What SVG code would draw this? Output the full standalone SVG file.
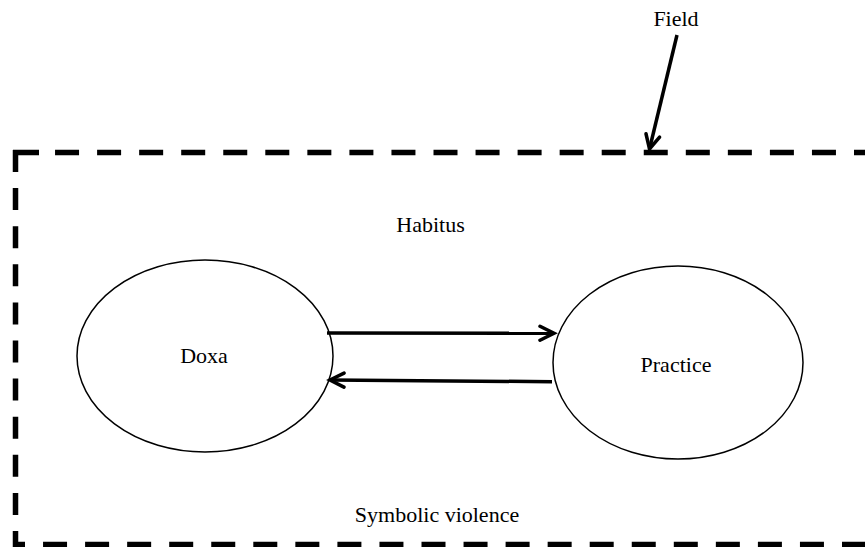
<svg xmlns="http://www.w3.org/2000/svg" width="865" height="547" viewBox="0 0 865 547">
<defs>
<style>
.lbl{font-family:"Liberation Serif","Times New Roman",serif;font-size:22px;fill:#000;text-anchor:middle}
.node{fill:#fff;stroke:#000;stroke-width:1.5}
.frame{fill:none;stroke:#000;stroke-width:5.5}
.conn{fill:none;stroke:#000;stroke-width:3.5}
</style>
<marker id="arr" markerUnits="userSpaceOnUse" markerWidth="20" markerHeight="20" viewBox="-16 -10 20 20" refX="0" refY="0" orient="auto">
<path d="M-14,-7 L0,0 L-14,7" fill="none" stroke="#000" stroke-width="3.5" stroke-linejoin="miter" stroke-linecap="round"/>
</marker>
</defs>
<rect width="865" height="547" fill="#fff"/>
<g id="field">
<path class="frame" d="M13,152.5 H870" stroke-dasharray="26 16.05 24 18.05 24 18.05 24 18.05 24 18.05 24 18.05 24 18.05 24 18.05 24 18.05 24 18.05 24 18.05 24 18.05 24 18.05 24 18.05 24 18.05 24 18.05 24 18.05 24 18.05 24 18.05 24 18.05 24 18.05 24 18.05"/>
<path class="frame" d="M15.5,150 V547" stroke-dasharray="22 16.1"/>
<path class="frame" d="M13,544.5 H870" stroke-dasharray="24 18.05" stroke-dashoffset="12"/>
<text class="lbl" x="676" y="26">Field</text>
</g>
<g id="habitus">
<text class="lbl" x="430.5" y="232">Habitus</text>
</g>
<g id="symbolic-violence">
<text class="lbl" x="437" y="522">Symbolic violence</text>
</g>
<g id="doxa">
<ellipse class="node" cx="205" cy="356" rx="128" ry="96"/>
<text class="lbl" x="204" y="363">Doxa</text>
</g>
<g id="practice">
<ellipse class="node" cx="678" cy="362.5" rx="125" ry="96.5"/>
<text class="lbl" x="676" y="372">Practice</text>
</g>
<g id="connectors">
<line class="conn" x1="327" y1="333" x2="554" y2="333.3" marker-end="url(#arr)"/>
<line class="conn" x1="552" y1="381.7" x2="330" y2="380" marker-end="url(#arr)"/>
<line class="conn" x1="677" y1="35" x2="649.5" y2="149" marker-end="url(#arr)"/>
</g>
</svg>
